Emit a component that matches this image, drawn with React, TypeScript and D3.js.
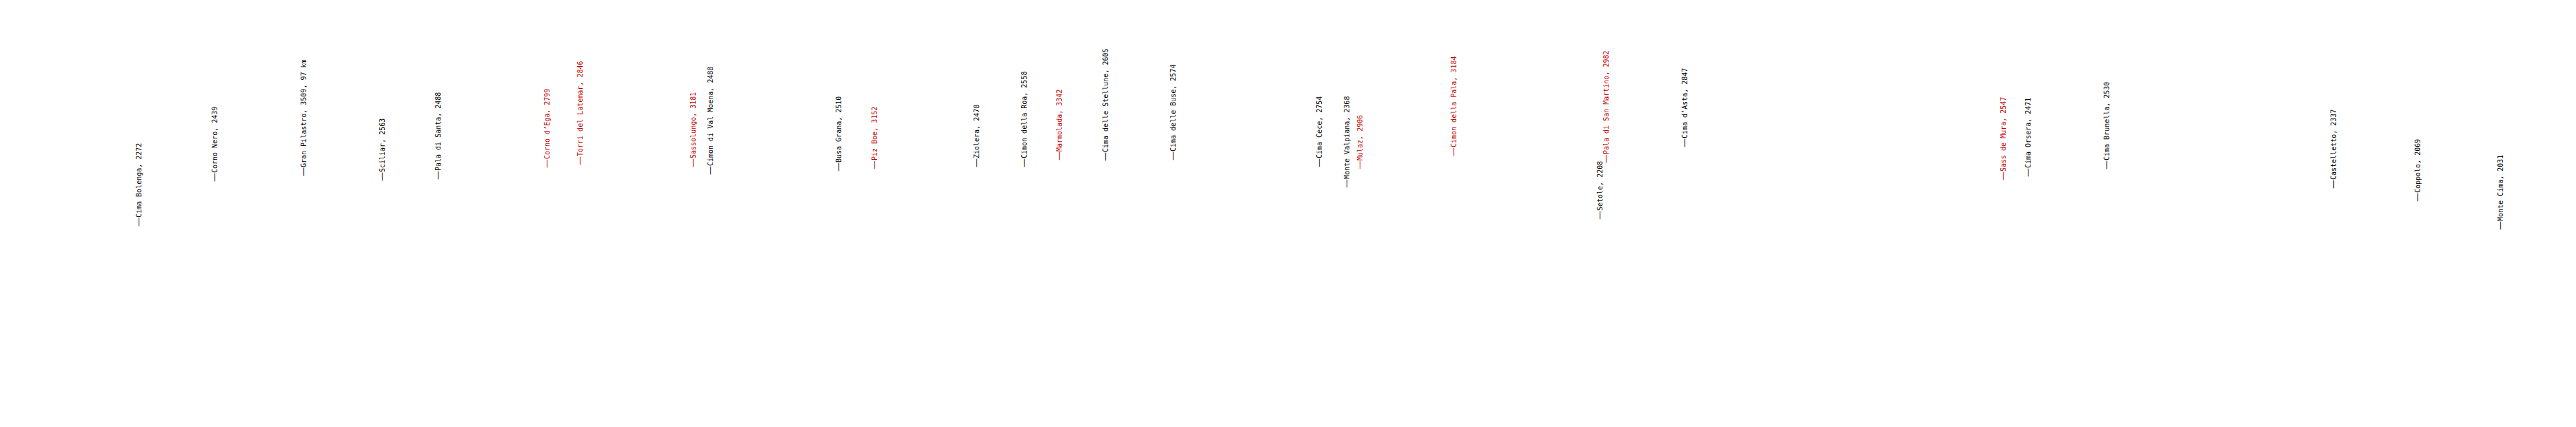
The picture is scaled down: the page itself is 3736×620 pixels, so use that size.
import * as React from 'react';
import * as d3 from 'd3';

// panorama label data
const peakNames = [
  'Cima Bolenga', 'Corno Nero', 'Gran Pilastro', 'Sciliar', 'Pala di Santa',
  'Corno d’Ega', 'Torri del Latemar', 'Sassolungo', 'Cimon di Val Moena',
  'Busa Grana', 'Piz Boe', 'Ziolera', 'Cimon della Roa', 'Marmolada',
  'Cima delle Stellune', 'Cima delle Buse', 'Cima Cece', 'Monte Valpiana',
  'Mulaz', 'Cimon della Pala', 'Setole', 'Pala di San Martino', 'Cima d’Asta',
  'Sass de Mura', 'Cima Orsera', 'Cima Brunella', 'Castelletto', 'Coppolo',
  'Monte Cima',
];
const peakHeights = [
  2272, 2439, 3509, 2563, 2488, 2799, 2846, 3181, 2488, 2510, 3152, 2478, 2558,
  3342, 2605, 2574, 2754, 2368, 2906, 3184, 2208, 2982, 2847, 2547, 2471, 2530,
  2337, 2069, 2031,
];
// distance is only printed for one peak
const peakDistances: (number | null)[] = [
  null, null, 97, null, null, null, null, null, null, null, null, null, null,
  null, null, null, null, null, null, null, null, null, null, null, null, null,
  null, null, null,
];
const peakHighlighted = [
  false, false, false, false, false, true, true, true, false, false, true,
  false, false, true, false, false, false, false, true, true, false, true,
  false, true, false, false, false, false, false,
];
// horizontal place in the panorama and vertical place of the label foot
const peakBearing = [
  202, 312, 441, 555, 636, 794, 842, 1006, 1031, 1217, 1269, 1417, 1486, 1537,
  1604, 1702, 1914, 1954, 1973, 2109, 2321, 2330, 2444, 2906, 2942, 3056, 3385,
  3507, 3627,
];
const peakLabelFoot = [
  329, 264, 256, 263, 261, 244, 240, 243, 254, 249, 246, 243, 243, 233, 234,
  233, 243, 273, 246, 227, 319, 237, 214, 262, 257, 246, 274, 293, 334,
];

const width = 3736;
const height = 620;

export default function App() {
  const x = d3.scaleLinear().domain([0, 3736]).range([0, width]);
  const y = d3.scaleLinear().domain([0, 620]).range([0, height]);

  const peaks = peakNames.map((name, i) => ({
    name,
    label:
      `${name}, ${peakHeights[i]}` +
      (peakDistances[i] != null ? `, ${peakDistances[i]} km` : ''),
    red: peakHighlighted[i],
    x: x(peakBearing[i]),
    y: y(peakLabelFoot[i]),
  }));

  return (
    <svg
      width={width}
      height={height}
      style={{ position: 'absolute', left: 0, top: 0, display: 'block', background: '#fff' }}
    >
      {peaks.map((p) => (
        <text
          key={p.name}
          transform={`translate(${p.x},${p.y}) rotate(-90)`}
          dy="0.32em"
          fill={p.red ? '#c40000' : '#000'}
          fontFamily="'DejaVu Sans Mono', monospace"
          fontSize={10}
        >
          <tspan fontFamily="'DejaVu Sans', sans-serif" fontSize={13}>
            —
          </tspan>
          <tspan>{p.label}</tspan>
        </text>
      ))}
    </svg>
  );
}
